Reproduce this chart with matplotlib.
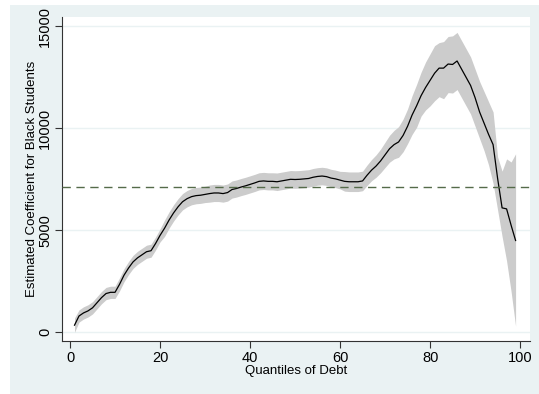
## quantile regression coefficients for black students across the debt distribution
import numpy as np
import matplotlib.pyplot as plt
from matplotlib.patches import Rectangle

plt.rcParams["font.family"] = ["Liberation Sans", "DejaVu Sans"]

quantiles = list(range(1, 100))

coef = [350, 800, 950, 1050, 1200, 1450, 1700, 1900, 1960, 1960,
        2350, 2800, 3150, 3450, 3650, 3800, 3950, 4000, 4350, 4750,
        5100, 5500, 5850, 6150, 6400, 6550, 6650, 6700, 6720, 6760,
        6800, 6830, 6830, 6800, 6850, 7000, 7050, 7120, 7180, 7250,
        7320, 7400, 7420, 7400, 7400, 7380, 7420, 7460, 7500, 7490,
        7500, 7520, 7540, 7600, 7640, 7660, 7630, 7560, 7520, 7460,
        7400, 7380, 7380, 7380, 7420, 7700, 7950, 8150, 8400, 8700,
        9000, 9200, 9330, 9650, 10100, 10650, 11100, 11600, 12000, 12350,
        12700, 12950, 12950, 13150, 13130, 13300, 12900, 12500, 12100, 11500,
        10800, 10250, 9700, 9200, 7550, 6100, 6050, 5250, 4500]

ci_low = [0, 500, 650, 750, 900, 1150, 1400, 1600, 1660, 1660,
          2030, 2480, 2830, 3130, 3330, 3480, 3630, 3680, 4030, 4430,
          4700, 5100, 5450, 5750, 6000, 6150, 6250, 6300, 6320, 6360,
          6380, 6410, 6410, 6380, 6430, 6580, 6630, 6700, 6760, 6830,
          6900, 6980, 7000, 6980, 6980, 6950, 6990, 7030, 7070, 7060,
          7070, 7090, 7110, 7170, 7210, 7230, 7200, 7130, 7090, 7030,
          6920, 6900, 6900, 6900, 6940, 7200, 7430, 7600, 7820, 8080,
          8340, 8500, 8580, 8850, 9250, 9700, 10050, 10600, 10900, 11100,
          11350, 11550, 11450, 11750, 11730, 11900, 11500, 11100, 10700, 10100,
          9500, 8900, 8200, 7300, 6000, 4700, 3500, 2000, 300]

ci_high = [700, 1100, 1250, 1350, 1500, 1750, 2000, 2200, 2260, 2260,
           2670, 3120, 3470, 3770, 3970, 4120, 4270, 4320, 4670, 5070,
           5500, 5900, 6250, 6550, 6800, 6950, 7050, 7100, 7120, 7160,
           7220, 7250, 7250, 7220, 7270, 7420, 7470, 7540, 7600, 7670,
           7740, 7820, 7840, 7820, 7820, 7810, 7850, 7890, 7930, 7920,
           7930, 7950, 7970, 8030, 8070, 8090, 8060, 7990, 7950, 7890,
           7880, 7860, 7860, 7860, 7900, 8200, 8470, 8700, 8980, 9320,
           9660, 9900, 10080, 10450, 10950, 11600, 12150, 12750, 13250, 13650,
           14050, 14200, 14250, 14500, 14530, 14700, 14300, 13900, 13500, 12900,
           12300, 11800, 11300, 10800, 8600, 7900, 8500, 8350, 8750]

ols_coef = 7120

xticks = [0, 20, 40, 60, 80, 100]
yticks = [0, 5000, 10000, 15000]

fig = plt.figure(figsize=(5.39, 3.94), dpi=100, facecolor="white")
# stata-style light blue graph region, kept behind the axes
region = Rectangle((10 / 539, 0), 1 - 10 / 539, 1 - 5 / 394,
                   transform=fig.transFigure, facecolor="#eaf2f3",
                   edgecolor="none", zorder=-10)
fig.add_artist(region)

ax = fig.add_axes([62 / 539, 53 / 394, 468 / 539, 324 / 394])
ax.set_facecolor("white")

ax.fill_between(quantiles, ci_low, ci_high, color="#cccccc", linewidth=0, zorder=2)
ax.plot(quantiles, coef, color="black", linewidth=0.9, zorder=3)
ax.axhline(ols_coef, color="#556b4a", linestyle=(0, (6, 4)), linewidth=1.0, zorder=4)

ax.set_xlim(-1.78, 102.2)
ax.set_ylim(-426, 15456)
ax.set_xticks(xticks)
ax.set_yticks(yticks)
ax.set_yticklabels([str(v) for v in yticks], rotation=90, va="center")
for y in yticks:
    ax.axhline(y, color="#eaf2f3", linewidth=1.0, zorder=1)

for side in ["top", "right"]:
    ax.spines[side].set_visible(False)
for side in ["left", "bottom"]:
    ax.spines[side].set_color("#333333")
    ax.spines[side].set_linewidth(0.8)
ax.tick_params(direction="out", length=5, width=0.8, color="#333333",
               labelsize=10.5, pad=2)

ax.set_xlabel("Quantiles of Debt", fontsize=9.5, labelpad=0.5)
ax.set_ylabel("Estimated Coefficient for Black Students", fontsize=9.5, labelpad=0.5)

plt.savefig("out.png", dpi=100, facecolor=fig.get_facecolor())
